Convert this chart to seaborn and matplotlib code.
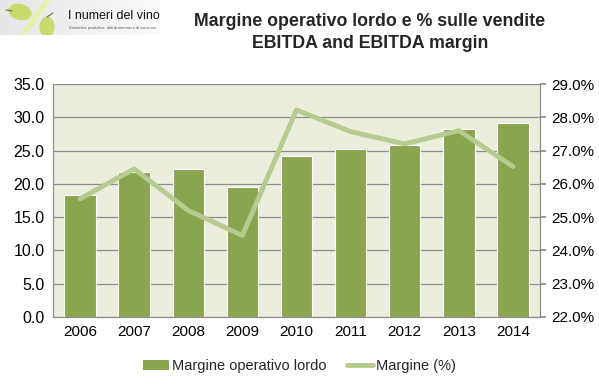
import numpy as np
import pandas as pd
import matplotlib
matplotlib.use('Agg')
import matplotlib.pyplot as plt
from matplotlib.patches import Patch, Ellipse, Polygon
from matplotlib.lines import Line2D
import seaborn as sns

years = ['2006', '2007', '2008', '2009', '2010', '2011', '2012', '2013', '2014']
ebitda = [18.4, 21.8, 22.2, 19.6, 24.2, 25.2, 25.9, 28.2, 29.2]
margin_pct = [25.55, 26.45, 25.2, 24.45, 28.22, 27.57, 27.2, 27.6, 26.52]

bar_color = '#8aa54f'
line_color = '#b5cb8f'
bg_color = '#ebeedd'
grid_color = '#8c8c8c'

sns.set_theme(style='white')
plt.rcParams['font.family'] = ['Liberation Sans', 'DejaVu Sans']

df = pd.DataFrame({'year': years, 'ebitda': ebitda, 'margin': margin_pct})

fig = plt.figure(figsize=(5.99, 3.88), dpi=100)
ax = fig.add_axes([53 / 599, 1 - 317 / 388, 487 / 599, 233 / 388])
ax.set_facecolor(bg_color)

sns.barplot(data=df, x='year', y='ebitda', color=bar_color, saturation=1,
            width=0.58, edgecolor='white', linewidth=0.8, ax=ax, zorder=3)
ax.set_ylim(0, 35)
ax.set_yticks(np.arange(0, 35.1, 5))
ax.set_yticklabels([f'{v:.1f}' for v in np.arange(0, 35.1, 5)])
ax.yaxis.grid(True, color=grid_color, linewidth=0.9, zorder=0)
ax.set_axisbelow(True)
ax.set_xlabel('')
ax.set_ylabel('')
ax.set_xlim(-0.5, len(years) - 0.5)
ax.tick_params(axis='y', labelsize=11.5, colors='black', length=0, pad=6)
ax.tick_params(axis='x', labelsize=11, colors='black', length=0, pad=6)

ax2 = ax.twinx()
sns.pointplot(data=df, x='year', y='margin', color=line_color, markers='',
              linestyles='-', lw=3.5, ax=ax2)
ax2.set_ylim(22, 29)
ax2.set_yticks(np.arange(22, 29.1, 1))
ax2.set_yticklabels([f'{v:.1f}%' for v in np.arange(22, 29.1, 1)])
ax2.set_ylabel('')
ax2.set_xlabel('')
ax2.grid(False)
ax2.tick_params(axis='y', labelsize=11, colors='black', length=4,
                direction='out', color=grid_color, pad=4)
ax2.set_xlim(-0.5, len(years) - 0.5)

for a in (ax, ax2):
    for s in a.spines.values():
        s.set_visible(False)
for s in ('left', 'bottom', 'right'):
    ax2.spines[s].set_visible(True)
    ax2.spines[s].set_color(grid_color)
    ax2.spines[s].set_linewidth(0.9)

handles = [Patch(facecolor=bar_color, edgecolor='none'),
           Line2D([0], [0], color=line_color, lw=3.5)]
fig.legend(handles, ['Margine operativo lordo', 'Margine (%)'],
           loc='center', bbox_to_anchor=(0.5, 1 - 366 / 388), ncol=2,
           frameon=False, fontsize=10.5, handlelength=1.8, handletextpad=0.2,
           columnspacing=1.4)

# titles
title_font = ['Liberation Sans Narrow', 'Liberation Sans', 'DejaVu Sans']
fig.text(370 / 599, 1 - 21 / 388, 'Margine operativo lordo e % sulle vendite',
         ha='center', va='center', fontsize=12.8, fontweight='bold',
         family=title_font)
fig.text(370 / 599, 1 - 44 / 388, 'EBITDA and EBITDA margin',
         ha='center', va='center', fontsize=12.8, fontweight='bold',
         family=title_font)

# logo
lax = fig.add_axes([0, 1 - 35 / 388, 160 / 599, 35 / 388])
grad = np.linspace(0.90, 0.98, 64).reshape(1, -1)
lax.imshow(grad, cmap='gray', vmin=0, vmax=1, aspect='auto',
           extent=[0, 160, 35, 0])
lax.set_xlim(0, 160)
lax.set_ylim(35, 0)
lax.add_patch(Polygon([[44, 1], [50, 1], [27, 34], [21, 34]],
                      closed=True, facecolor='#e6f2a6', edgecolor='none'))
lax.add_patch(Ellipse((20, 12), 24, 16, angle=15, facecolor='#c6da6e',
                      edgecolor='none'))
lax.add_patch(Ellipse((47, 27), 15, 21, facecolor='#c6da6e',
                      edgecolor='none'))
lax.plot([6, 12], [10, 11], color='#7a6a40', lw=0.8)
lax.plot([47, 53], [17, 13], color='#7a6a40', lw=0.8)
lax.text(68, 16, 'I numeri del vino', fontsize=9, va='center',
         color='#111111', family=title_font)
lax.text(69, 28, 'Statistiche produttive, dati di mercato e di consumo.',
         fontsize=2.8, va='center', color='#555555')
lax.axis('off')

fig.savefig('out.png', dpi=100)
